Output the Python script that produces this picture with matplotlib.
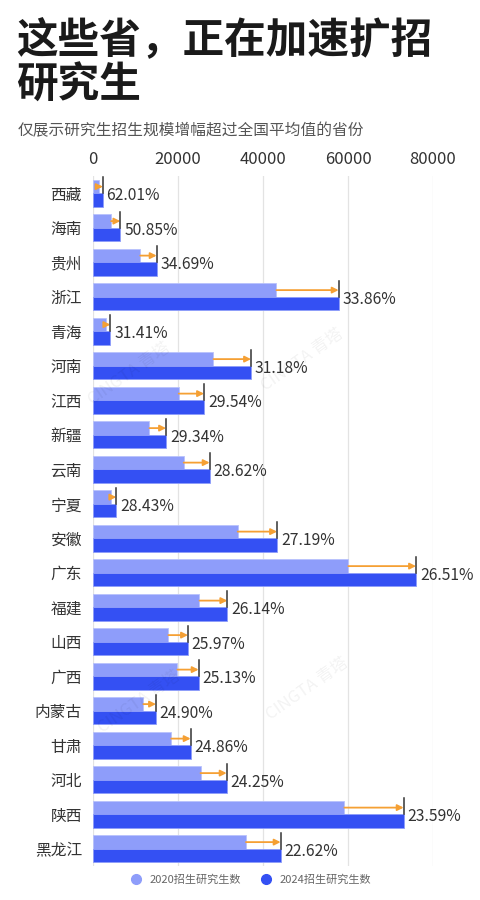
import matplotlib.pyplot as plt
import numpy as np

plt.rcParams['font.family'] = ['Noto Sans CJK SC', 'DejaVu Sans']

provinces = ['西藏', '海南', '贵州', '浙江', '青海', '河南', '江西', '新疆', '云南', '宁夏',
             '安徽', '广东', '福建', '山西', '广西', '内蒙古', '甘肃', '河北', '陕西', '黑龙江']
growth = [62.01, 50.85, 34.69, 33.86, 31.41, 31.18, 29.54, 29.34, 28.62, 28.43,
          27.19, 26.51, 26.14, 25.97, 25.13, 24.90, 24.86, 24.25, 23.59, 22.62]
v2024 = [2260, 6430, 14970, 57790, 4070, 37180, 26120, 17180, 27440, 5480,
         43300, 76000, 31600, 22350, 24850, 14820, 22970, 31440, 73090, 44140]
v2020 = [1395, 4263, 11114, 43170, 3098, 28340, 20165, 13283, 21334, 4267,
         34043, 60075, 25055, 17742, 19857, 11866, 18397, 25304, 59139, 35994]
xticks = [0, 20000, 40000, 60000, 80000]

c2020 = '#8E9DFA'
c2024 = '#3450F3'
orange = '#F5A034'

fig = plt.figure(figsize=(4.8, 9), dpi=100)
ax = fig.add_axes([93 / 480, 1 - 866 / 900, 340 / 480, 690 / 900])

y = np.arange(len(provinces))
h = 0.385
ax.barh(y - h / 2, v2020, height=h, color=c2020, edgecolor='#B8C2FC', linewidth=0.6, zorder=2)
ax.barh(y + h / 2, v2024, height=h, color=c2024, edgecolor='#8E9DFA', linewidth=0.6, zorder=2)

for i in range(len(provinces)):
    ax.annotate('', xy=(v2024[i], y[i] - h / 2), xytext=(v2020[i], y[i] - h / 2),
                arrowprops=dict(arrowstyle='-|>', color=orange, lw=1.3,
                                mutation_scale=9, shrinkA=0, shrinkB=0),
                zorder=3)
    ax.plot([v2024[i], v2024[i]], [y[i] - h - 0.08, y[i]], color='#333333', lw=1.1, zorder=4)
    ax.text(v2024[i] + 900, y[i] + 0.07, f'{growth[i]:.2f}%', va='center', ha='left',
            fontsize=11.3, color='#333333', clip_on=False)

ax.set_xlim(0, 80000)
ax.set_ylim(len(provinces) - 0.5, -0.5)
ax.set_xticks(xticks)
ax.set_xticklabels([str(t) for t in xticks])
ax.xaxis.tick_top()
ax.tick_params(axis='x', length=0, pad=6, labelsize=12, labelcolor='#333333')
ax.set_yticks(y)
ax.set_yticklabels(provinces)
ax.tick_params(axis='y', length=0, pad=8, labelsize=11.3, labelcolor='#333333')
ax.grid(axis='x', color='#E3E3E3', lw=0.9, zorder=0)
for s in ax.spines.values():
    s.set_visible(False)

# watermark
for wx, wy in [(0.27, 0.585), (0.63, 0.6), (0.29, 0.22), (0.64, 0.235)]:
    fig.text(wx, wy, 'CINGTA 青塔', rotation=35, fontsize=12, color='#000000',
             alpha=0.05, ha='center', va='center')

fig.text(16 / 480, 1 - 41 / 900, '这些省，正在加速扩招', fontsize=30, fontweight='heavy',
         color='#1A1A1A', va='center', ha='left')
fig.text(16 / 480, 1 - 86 / 900, '研究生', fontsize=30, fontweight='heavy',
         color='#1A1A1A', va='center', ha='left')
fig.text(18 / 480, 1 - 131 / 900, '仅展示研究生招生规模增幅超过全国平均值的省份', fontsize=11.3,
         color='#555555', va='center', ha='left')

lh = [plt.Line2D([], [], marker='o', ls='', color=c2020, markersize=7),
      plt.Line2D([], [], marker='o', ls='', color=c2024, markersize=7)]
fig.legend(lh, ['2020招生研究生数', '2024招生研究生数'], loc='center',
           bbox_to_anchor=(248 / 480, 1 - 880 / 900), ncol=2, frameon=False,
           fontsize=8, labelcolor='#666666', handletextpad=0.2, columnspacing=1.2)

fig.savefig('out.png', dpi=100)
